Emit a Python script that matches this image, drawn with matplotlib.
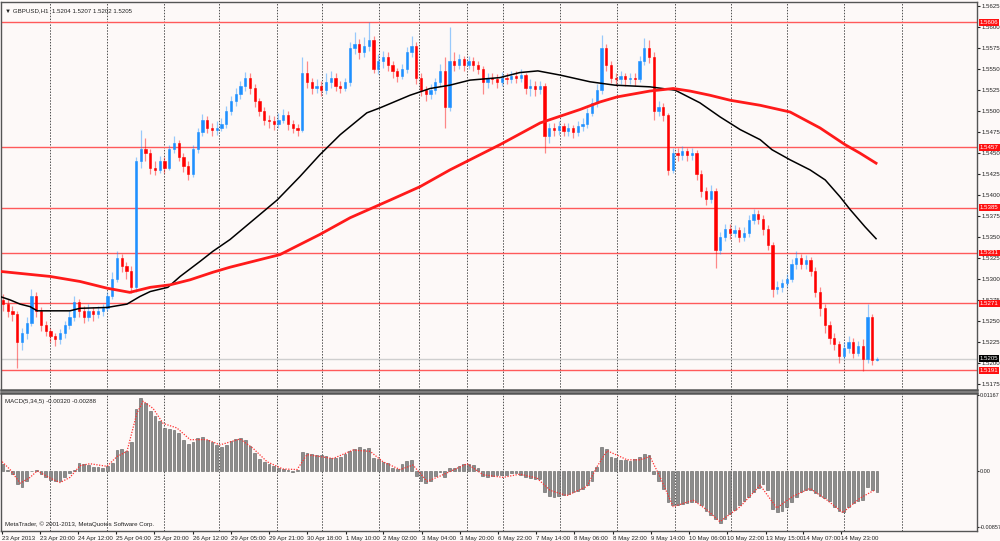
import matplotlib
matplotlib.use("Agg")
import matplotlib.pyplot as plt
import numpy as np

# GBPUSD H1, one candle per 2 hours
closes = [
    1.5270, 1.5262, 1.5258, 1.5225, 1.5235, 1.5248, 1.5280, 1.5262, 1.5245, 1.5238,
    1.5232, 1.5228, 1.5236, 1.5245, 1.5255, 1.5272, 1.5262, 1.5255, 1.5262, 1.5258,
    1.5262, 1.5265, 1.5280, 1.5300, 1.5325, 1.5315, 1.5310, 1.5290, 1.5440, 1.5455,
    1.5450, 1.5432, 1.5430, 1.5440, 1.5432, 1.5455, 1.5462, 1.5445, 1.5435, 1.5425,
    1.5455, 1.5475, 1.5490, 1.5480, 1.5478, 1.5480, 1.5485, 1.5500, 1.5512, 1.5520,
    1.5530, 1.5540, 1.5528, 1.5512, 1.5500, 1.5490, 1.5488, 1.5485, 1.5490, 1.5495,
    1.5485, 1.5480, 1.5478, 1.5545, 1.5535, 1.5528, 1.5530, 1.5525, 1.5535, 1.5540,
    1.5530, 1.5528, 1.5535, 1.5575, 1.5580, 1.5570, 1.5578, 1.5585, 1.5550, 1.5560,
    1.5565, 1.5555, 1.5548, 1.5542, 1.5550, 1.5570, 1.5578, 1.5540, 1.5525, 1.5520,
    1.5525, 1.5535, 1.5548, 1.5505, 1.5560, 1.5555, 1.5562, 1.5555, 1.5560, 1.5555,
    1.5550, 1.5535, 1.5540, 1.5538, 1.5535, 1.5540, 1.5538, 1.5542, 1.5540, 1.5543,
    1.5528, 1.5530, 1.5526, 1.5530, 1.5470, 1.5480, 1.5478, 1.5482, 1.5476, 1.5480,
    1.5475, 1.5482, 1.5485, 1.5498, 1.5510, 1.5525, 1.5575, 1.5555, 1.5540, 1.5538,
    1.5542, 1.5538, 1.5540, 1.5538, 1.5560, 1.5575, 1.5565, 1.5500, 1.5505, 1.5495,
    1.5430, 1.5450, 1.5448, 1.5452, 1.5448, 1.5450, 1.5425, 1.5405, 1.5395, 1.5405,
    1.5335, 1.5350, 1.5360, 1.5355, 1.5358, 1.5350, 1.5355, 1.5370, 1.5378, 1.5372,
    1.5360, 1.5340, 1.5288, 1.5290, 1.5295, 1.5300, 1.5318, 1.5325, 1.5318, 1.5322,
    1.5310, 1.5285, 1.5265, 1.5245, 1.5230, 1.5222, 1.5208, 1.5218, 1.5225, 1.5212,
    1.5220, 1.5205, 1.5255, 1.5203, 1.5205,
]
highs = [
    1.5282, 1.5276, 1.5268, 1.5262, 1.5242, 1.5255, 1.5288, 1.5284, 1.5266, 1.5250,
    1.5242, 1.5236, 1.5240, 1.5250, 1.5262, 1.5280, 1.5276, 1.5268, 1.5270, 1.5266,
    1.5268, 1.5270, 1.5285, 1.5308, 1.5333, 1.5330, 1.5320, 1.5315, 1.5445, 1.5478,
    1.5468, 1.5455, 1.5440, 1.5446, 1.5445, 1.5460, 1.5470, 1.5466, 1.5450, 1.5440,
    1.5460, 1.5480, 1.5497, 1.5494, 1.5486, 1.5488, 1.5492, 1.5506, 1.5518, 1.5528,
    1.5536, 1.5547, 1.5545, 1.5532, 1.5516, 1.5505, 1.5496, 1.5494, 1.5498, 1.5502,
    1.5500, 1.5490, 1.5485, 1.5565, 1.5560, 1.5540, 1.5538, 1.5536, 1.5545, 1.5548,
    1.5545, 1.5536, 1.5540, 1.5582, 1.5594, 1.5586, 1.5588, 1.5606, 1.5590, 1.5568,
    1.5572, 1.5570, 1.5560, 1.5552, 1.5556, 1.5576, 1.5590, 1.5582, 1.5545, 1.5530,
    1.5532, 1.5540, 1.5556, 1.5565, 1.5600, 1.5570, 1.5568, 1.5566, 1.5566, 1.5564,
    1.5560, 1.5554, 1.5546, 1.5546, 1.5544, 1.5547, 1.5546, 1.5548, 1.5548, 1.5550,
    1.5546, 1.5538, 1.5536, 1.5536, 1.5534, 1.5486, 1.5486, 1.5488, 1.5486, 1.5486,
    1.5484, 1.5488, 1.5492, 1.5504, 1.5516, 1.5532, 1.5591, 1.5580, 1.5560, 1.5546,
    1.5548, 1.5546, 1.5546, 1.5545, 1.5566, 1.5587, 1.5585, 1.5570, 1.5512, 1.5510,
    1.5498, 1.5456, 1.5456, 1.5458, 1.5456, 1.5456, 1.5454, 1.5430, 1.5410, 1.5412,
    1.5408, 1.5356, 1.5366, 1.5365, 1.5364, 1.5362, 1.5362, 1.5376, 1.5383, 1.5382,
    1.5376, 1.5364, 1.5344, 1.5298, 1.5300, 1.5306, 1.5324, 1.5333, 1.5330, 1.5328,
    1.5326, 1.5314, 1.5290, 1.5270, 1.5250, 1.5236, 1.5226, 1.5225, 1.5232, 1.5230,
    1.5226, 1.5228, 1.5270, 1.5258, 1.5207,
]
lows = [
    1.5262, 1.5255, 1.5250, 1.5194, 1.5215, 1.5228, 1.5244, 1.5255, 1.5238, 1.5232,
    1.5225, 1.5220, 1.5222, 1.5230, 1.5240, 1.5250, 1.5255, 1.5248, 1.5250, 1.5250,
    1.5254, 1.5256, 1.5262, 1.5276, 1.5296, 1.5308, 1.5300, 1.5283, 1.5285, 1.5432,
    1.5440, 1.5425, 1.5424, 1.5426, 1.5426, 1.5430, 1.5450, 1.5440, 1.5428, 1.5418,
    1.5422, 1.5450, 1.5470, 1.5474, 1.5470, 1.5472, 1.5476, 1.5480, 1.5495, 1.5506,
    1.5515, 1.5524, 1.5520, 1.5505, 1.5494, 1.5484, 1.5480, 1.5478, 1.5480, 1.5486,
    1.5478, 1.5474, 1.5470, 1.5475, 1.5528, 1.5520, 1.5522, 1.5518, 1.5520, 1.5528,
    1.5524, 1.5522, 1.5524, 1.5530, 1.5568, 1.5562, 1.5565, 1.5572, 1.5545, 1.5544,
    1.5552, 1.5548, 1.5540, 1.5535, 1.5538, 1.5546, 1.5565, 1.5532, 1.5518, 1.5512,
    1.5515, 1.5520, 1.5530, 1.5480, 1.5500, 1.5548, 1.5550, 1.5548, 1.5550, 1.5548,
    1.5544, 1.5520, 1.5528, 1.5532, 1.5528, 1.5530, 1.5532, 1.5533, 1.5534, 1.5535,
    1.5520, 1.5518, 1.5518, 1.5520, 1.5450, 1.5462, 1.5470, 1.5472, 1.5470, 1.5470,
    1.5468, 1.5470, 1.5476, 1.5480, 1.5494, 1.5505, 1.5520, 1.5548, 1.5534, 1.5530,
    1.5532, 1.5530, 1.5532, 1.5530, 1.5535, 1.5555, 1.5558, 1.5490, 1.5494, 1.5488,
    1.5424, 1.5426, 1.5440, 1.5442, 1.5440, 1.5442, 1.5418, 1.5398, 1.5388, 1.5390,
    1.5313, 1.5330, 1.5345, 1.5348, 1.5350, 1.5344, 1.5345, 1.5350, 1.5365, 1.5365,
    1.5352, 1.5334, 1.5278, 1.5282, 1.5284, 1.5290, 1.5296, 1.5312, 1.5312, 1.5312,
    1.5304, 1.5278, 1.5256, 1.5236, 1.5222, 1.5215, 1.5200, 1.5204, 1.5212, 1.5206,
    1.5208, 1.5190, 1.5200, 1.5198, 1.5202,
]
first_open = 1.5275

# moving averages (black = fast, red = slow), sampled along the chart
ma_fast_pos = [-0.6, 1.5, 3.6, 5.7, 7.2, 9.9, 14.1, 16.2, 21.9, 26.1, 28.8, 31.0, 34.7,
               37.3, 41.5, 44.2, 47.8, 57.7, 62.5, 66.7, 71.0, 76.6, 79.4, 85.7, 89.9,
               94.1, 98.3, 104.6, 108.8, 112.6, 117.3, 123.6, 128.8, 136.2, 141.5, 146.7,
               151.0, 155.2, 159.4, 161.9, 165.7, 169.9, 173.1, 176.2, 178.3, 181.5, 183.8]
ma_fast = [1.5279, 1.5275, 1.5270, 1.5267, 1.5262, 1.5262, 1.5262, 1.5265, 1.5266, 1.5270,
           1.5279, 1.5285, 1.5290, 1.5303, 1.5321, 1.5333, 1.5347, 1.5394, 1.5422, 1.5448,
           1.5472, 1.5498, 1.5504, 1.5519, 1.5527, 1.5531, 1.5537, 1.5540, 1.5546, 1.5548,
           1.5543, 1.5535, 1.5531, 1.5529, 1.5525, 1.5510, 1.5493, 1.5478, 1.5466, 1.5454,
           1.5442, 1.5430, 1.5418, 1.5398, 1.5383, 1.5362, 1.5348]
ma_slow_pos = [-0.6, 9.9, 16.2, 21.9, 26.7, 31.0, 35.2, 39.4, 44.2, 47.8, 58.3, 66.7, 73.1,
               81.5, 87.8, 94.1, 104.6, 113.1, 121.5, 125.7, 129.3, 136.2, 141.1, 144.6,
               148.8, 153.1, 159.4, 165.7, 172.0, 177.3, 180.4, 183.8]
ma_slow = [1.5309, 1.5303, 1.5297, 1.5289, 1.5284, 1.5290, 1.5293, 1.5299, 1.5308, 1.5314,
           1.5329, 1.5353, 1.5373, 1.5394, 1.5410, 1.5430, 1.5460, 1.5486, 1.5502, 1.5511,
           1.5517, 1.5524, 1.5527, 1.5524, 1.5519, 1.5513, 1.5507, 1.5499, 1.5480, 1.5460,
           1.5450, 1.5438]

levels = [1.5606, 1.5457, 1.5385, 1.5331, 1.5271, 1.5191]
bid = 1.5205

# MACD(5,34,5)
macd_hist = [
    0.0010, 0.0001, -0.0005, -0.0020, -0.0025, -0.0015, 0.0000, 0.0002, -0.0005, -0.0010,
    -0.0014, -0.0016, -0.0015, -0.0010, -0.0004, 0.0002, 0.0012, 0.0011, 0.0009, 0.0006,
    0.0006, 0.0005, 0.0008, 0.0012, 0.0032, 0.0034, 0.0030, 0.0045, 0.0095, 0.0112,
    0.0105, 0.0092, 0.0085, 0.0076, 0.0066, 0.0064, 0.0063, 0.0058, 0.0048, 0.0042,
    0.0045, 0.0050, 0.0052, 0.0048, 0.0044, 0.0040, 0.0037, 0.0040, 0.0046, 0.0049,
    0.0050, 0.0048, 0.0038, 0.0028, 0.0018, 0.0013, 0.0010, 0.0007, 0.0005, 0.0003,
    0.0002, -0.0002, 0.0001, 0.0029, 0.0028, 0.0026, 0.0025, 0.0024, 0.0023, 0.0020,
    0.0020, 0.0021, 0.0026, 0.0031, 0.0034, 0.0036, 0.0034, 0.0035, 0.0020, 0.0018,
    0.0014, 0.0012, 0.0005, 0.0003, 0.0010, 0.0015, 0.0017, -0.0008, -0.0015, -0.0018,
    -0.0016, -0.0008, -0.0002, -0.0010, 0.0004, 0.0005, 0.0007, 0.0010, 0.0011, 0.0009,
    0.0004, -0.0008, -0.0010, -0.0008, -0.0007, -0.0006, -0.0006, -0.0004, -0.0004, -0.0006,
    -0.0010, -0.0011, -0.0012, -0.0012, -0.0032, -0.0038, -0.0040, -0.0039, -0.0037, -0.0035,
    -0.0033, -0.0031, -0.0028, -0.0022, -0.0015, 0.0006, 0.0036, 0.0033, 0.0022, 0.0020,
    0.0017, 0.0016, 0.0015, 0.0018, 0.0022, 0.0026, 0.0025, -0.0005, -0.0015, -0.0028,
    -0.0048, -0.0053, -0.0052, -0.0051, -0.0050, -0.0048, -0.0048, -0.0052, -0.0062, -0.0068,
    -0.0074, -0.0080, -0.0074, -0.0066, -0.0060, -0.0053, -0.0046, -0.0040, -0.0033, -0.0027,
    -0.0020, -0.0030, -0.0058, -0.0063, -0.0062, -0.0056, -0.0048, -0.0040, -0.0033, -0.0029,
    -0.0030, -0.0034, -0.0038, -0.0042, -0.0046, -0.0055, -0.0062, -0.0063, -0.0055, -0.0050,
    -0.0046, -0.0044, -0.0025, -0.0030, -0.0032,
]
signal_pos = [-0.6, 1.5, 3.6, 5.7, 7.2, 9.9, 12.0, 14.1, 16.2, 18.3, 21.9, 24.0, 26.1, 28.2,
              29.5, 31.6, 33.7, 36.6, 39.4, 42.9, 45.7, 49.9, 52.6, 55.6, 58.9, 61.9, 64.0,
              69.5, 73.7, 77.3, 80.0, 83.6, 86.3, 89.3, 92.0, 97.7, 101.1, 105.3, 108.8,
              112.4, 115.2, 118.7, 122.9, 125.1, 127.2, 131.4, 134.1, 136.2, 138.3, 141.1,
              145.3, 148.2, 150.9, 155.2, 159.4, 162.9, 166.3, 169.9, 173.5, 176.8, 180.4, 183.6]
signal = [0.0017, 0.0002, -0.0019, -0.0010, 0.0000, -0.0011, -0.0018, -0.0010, 0.0008, 0.0011,
          0.0007, 0.0022, 0.0030, 0.0089, 0.0107, 0.0096, 0.0073, 0.0066, 0.0048, 0.0048,
          0.0040, 0.0049, 0.0035, 0.0014, 0.0003, 0.0002, 0.0025, 0.0019, 0.0032, 0.0030,
          0.0014, 0.0002, 0.0009, -0.0016, -0.0008, 0.0011, -0.0006, -0.0010, -0.0005,
          -0.0011, -0.0030, -0.0038, -0.0024, 0.0007, 0.0031, 0.0017, 0.0017, 0.0022,
          -0.0009, -0.0055, -0.0045, -0.0060, -0.0078, -0.0055, -0.0022, -0.0057, -0.0039,
          -0.0027, -0.0045, -0.0064, -0.0042, -0.0029]

# time axis
tick_pos = [-0.3, 7.8, 15.8, 23.8, 31.8, 40.0, 48.0, 56.0, 64.0, 72.2, 80.0, 88.2, 96.2,
            104.2, 112.2, 120.2, 128.4, 136.4, 144.4, 152.4, 160.6, 168.4, 176.4]
tick_labels = ["23 Apr 2013", "23 Apr 20:00", "24 Apr 12:00", "25 Apr 04:00", "25 Apr 20:00",
               "26 Apr 12:00", "29 Apr 05:00", "29 Apr 21:00", "30 Apr 18:00", "1 May 10:00",
               "2 May 02:00", "3 May 04:00", "3 May 20:00", "6 May 22:00", "7 May 14:00",
               "8 May 06:00", "8 May 22:00", "9 May 14:00", "10 May 06:00", "10 May 22:00",
               "13 May 15:00", "14 May 07:00", "14 May 23:00"]
day_sep = [9.9, 21.9, 33.9, 45.5, 57.7, 67.2, 79.2, 87.6, 97.7, 105.3, 117.3, 129.3,
           141.5, 153.2, 165.1, 177.1, 189.3]

plt.rcParams["font.family"] = ["Liberation Sans", "DejaVu Sans"]

BG = "#fdf9f8"
BULL = "#1e90ff"
BEAR = "#ff0000"
FS = 4.4

fig = plt.figure(figsize=(10, 5.41), dpi=100, facecolor=BG)
ax = fig.add_axes([0.001, 1 - 390 / 541, 0.976, 388 / 541], facecolor=BG)
ax2 = fig.add_axes([0.001, 1 - 531 / 541, 0.976, 138 / 541], facecolor=BG)

closes = np.array(closes)
opens = np.concatenate([[first_open], closes[:-1]])
highs = np.array(highs)
lows = np.array(lows)
x = np.arange(len(closes))
up = closes >= opens
cols = np.where(up, BULL, BEAR)

for a in (ax, ax2):
    for d in day_sep:
        a.axvline(d, color="#505050", lw=0.7, ls=(0, (1.5, 1.5)), zorder=1)

for lv in levels:
    ax.axhline(lv, color="#ff5a5a", lw=1.0, zorder=2)
ax.axhline(bid, color="#cfcfcf", lw=1.0, zorder=2)

ax.vlines(x, lows, highs, colors=cols, lw=0.9, alpha=0.45, zorder=3)
body_lo = np.minimum(opens, closes)
body_h = np.abs(closes - opens)
ax.bar(x, body_h, bottom=body_lo, width=0.45, color=cols, edgecolor=cols, lw=0.4, zorder=4)

ax.plot(ma_fast_pos, ma_fast, color="black", lw=1.1, zorder=5)
ax.plot(ma_slow_pos, ma_slow, color="#ff1a1a", lw=2.0, zorder=5)

xmin, xmax = -0.42, 205.05
ax.set_xlim(xmin, xmax)
ax.set_ylim(1.516762, 1.563012)
ax.set_xticks([])
ax.yaxis.tick_right()
ax.set_yticks(np.arange(1.5175, 1.5626, 0.0025))
ax.yaxis.set_major_formatter(plt.FormatStrFormatter("%.4f"))
ax.tick_params(axis="y", labelsize=FS, length=2, pad=1.5, colors="#222222")

for lv in levels:
    ax.text(1.003, lv, f"{lv:.4f}", transform=ax.get_yaxis_transform(), fontsize=FS,
            color="white", va="center", ha="left", zorder=10, clip_on=False,
            bbox=dict(boxstyle="square,pad=0.15", fc="#ff1010", ec="none"))
ax.text(1.003, bid, f"{bid:.4f}", transform=ax.get_yaxis_transform(), fontsize=FS,
        color="white", va="center", ha="left", zorder=10, clip_on=False,
        bbox=dict(boxstyle="square,pad=0.15", fc="black", ec="none"))

ax.text(0.004, 0.977, "\u25bc GBPUSD,H1  1.5204 1.5207 1.5202 1.5205", transform=ax.transAxes,
        fontsize=FS, color="#222222", va="center", ha="left")

# MACD panel
ax2.bar(x, macd_hist, width=0.62, color="#8c8c8c", edgecolor="#5a5a5a", lw=0.4, zorder=3)
ax2.plot(signal_pos, signal, color="#ff3030", lw=0.9, ls=(0, (1, 1.2)), zorder=4)
ax2.set_xlim(xmin, xmax)
ax2.set_ylim(-0.00924, 0.01197)
ax2.yaxis.tick_right()
ax2.set_yticks([0.01167, 0.0, -0.00857])
ax2.set_yticklabels(["0.01167", "0.00", "-0.00857"])
ax2.tick_params(axis="y", labelsize=4.0, length=1.5, pad=0.5, colors="#222222")
ax2.set_xticks(tick_pos)
ax2.set_xticklabels(tick_labels, ha="left")
ax2.tick_params(axis="x", labelsize=FS, length=2, pad=1.5, colors="#222222")
ax2.text(0.004, 0.94, "MACD(5,34,5) -0.00320 -0.00288", transform=ax2.transAxes,
         fontsize=FS, color="#222222", va="center", ha="left")
ax2.text(0.004, 0.05, "MetaTrader, \u00a9 2001-2013, MetaQuotes Software Corp.",
         transform=ax2.transAxes, fontsize=FS, color="#222222", va="center", ha="left")

for a in (ax, ax2):
    for s in a.spines.values():
        s.set_color("#555555")
        s.set_linewidth(1.0)
ax.spines["bottom"].set_linewidth(1.8)
ax2.spines["top"].set_linewidth(1.8)

fig.savefig("out.png", dpi=100, facecolor=BG)
